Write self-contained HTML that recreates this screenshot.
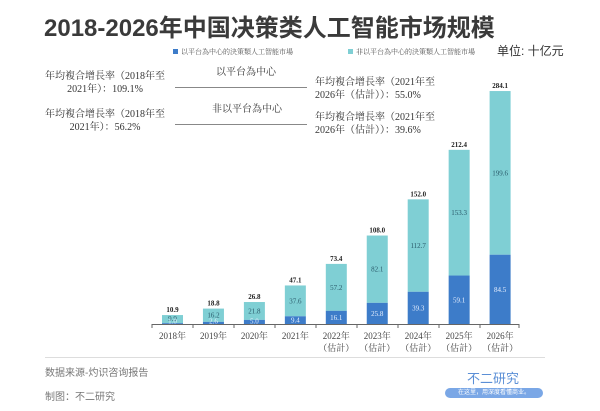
<!DOCTYPE html>
<html><head><meta charset="utf-8"><style>
body{margin:0;background:#fff;}
#c{position:relative;width:600px;height:411px;overflow:hidden;background:#fff;font-family:"Liberation Serif","Noto Serif CJK SC",serif;color:#333;}
.a{position:absolute;white-space:nowrap;}
.s{font-size:10px;line-height:12px;}
</style></head><body><div id="c">
<div class="a" style="left:44px;top:13px;font:bold 24px/32px 'Liberation Sans','Noto Sans CJK SC',sans-serif;color:#3a3a3a;">2018-2026年中国决策类人工智能市场规模</div>
<div class="a" style="left:173px;top:47px;font-size:7px;color:#555;"><span style="display:inline-block;width:5px;height:5px;background:#3d7cc9;margin-right:3px;"></span>以平台為中心的決策類人工智能市場</div>
<div class="a" style="left:348px;top:47px;font-size:7px;color:#555;"><span style="display:inline-block;width:5px;height:5px;background:#7fcfd4;margin-right:3px;"></span>非以平台為中心的決策類人工智能市場</div>
<div class="a" style="left:497px;top:43px;font:12px/16px 'Liberation Sans','Noto Sans CJK SC',sans-serif;color:#333;">单位: 十亿元</div>
<div class="a s" style="left:45px;top:71px;text-align:center;width:120px;">年均複合增長率（2018年至<br><span style="line-height:14px">2021年）：109.1%</span></div>
<div class="a s" style="left:45px;top:109px;text-align:center;width:120px;">年均複合增長率（2018年至<br><span style="line-height:14px">2021年）：56.2%</span></div>
<div class="a s" style="left:216px;top:67px;">以平台為中心</div>
<div class="a" style="left:175px;top:87px;width:132px;border-top:1px solid #888;"></div>
<div class="a s" style="left:212px;top:104px;">非以平台為中心</div>
<div class="a" style="left:175px;top:124px;width:132px;border-top:1px solid #888;"></div>
<div class="a s" style="left:315px;top:77px;">年均複合增長率（2021年至<br><span style="line-height:14px">2026年（估計））：55.0%</span></div>
<div class="a s" style="left:315px;top:112px;">年均複合增長率（2021年至<br><span style="line-height:14px">2026年（估計））：39.6%</span></div>
<svg class="a" style="left:0;top:0" width="600" height="411" font-family="Liberation Serif, Noto Serif CJK SC, serif">
<g id="bars"></g>
<line x1="152" y1="324.5" x2="519" y2="324.5" stroke="#666" stroke-width="1"/>
<g stroke="#666">
<line x1="152" y1="324" x2="152" y2="328"/><line x1="193" y1="324" x2="193" y2="328"/><line x1="234" y1="324" x2="234" y2="328"/><line x1="275" y1="324" x2="275" y2="328"/><line x1="316" y1="324" x2="316" y2="328"/><line x1="357" y1="324" x2="357" y2="328"/><line x1="398" y1="324" x2="398" y2="328"/><line x1="439" y1="324" x2="439" y2="328"/><line x1="480" y1="324" x2="480" y2="328"/><line x1="519" y1="324" x2="519" y2="328"/>
</g>
<line x1="45" y1="357.5" x2="545" y2="357.5" stroke="#ddd"/>
</svg>
<div class="a" style="left:45px;top:367px;font:10px/14px 'Liberation Sans','Noto Sans CJK SC',sans-serif;color:#777;">数据来源-灼识咨询报告</div>
<div class="a" style="left:45px;top:391px;font:10px/14px 'Liberation Sans','Noto Sans CJK SC',sans-serif;color:#777;">制图：不二研究</div>
<div class="a" style="left:467px;top:371px;font:13px/16px 'Liberation Sans','Noto Sans CJK SC',sans-serif;color:#5b8fd6;">不二研究</div>
<div class="a" style="left:445px;top:388px;width:98px;height:10px;background:#7aa7e6;border-radius:5px;font:6px/10px 'Liberation Sans','Noto Sans CJK SC',sans-serif;color:#fff;text-align:center;">在这里，用深度看懂商业。</div>
<script>
var d=[[1.0,9.9,10.9,"2018年"],[2.6,16.2,18.8,"2019年"],[5.0,21.8,26.8,"2020年"],[9.4,37.6,47.1,"2021年"],[16.1,57.2,73.4,"2022年"],[25.8,82.1,108.0,"2023年"],[39.3,112.7,152.0,"2024年"],[59.1,153.3,212.4,"2025年"],[84.5,199.6,284.1,"2026年"]];
var s=0.82,b=324,g=document.getElementById('bars'),h='';
d.forEach(function(r,i){var cx=172.5+i*40.95,w=21,x=cx-w/2;
var h1=r[0]*s,h2=r[1]*s;
h+='<rect x="'+x+'" y="'+(b-h1-h2)+'" width="'+w+'" height="'+h2+'" fill="#7fcfd4"/>';
h+='<rect x="'+x+'" y="'+(b-h1)+'" width="'+w+'" height="'+h1+'" fill="#3d7cc9"/>';
h+='<text x="'+cx+'" y="'+(b-h1-h2-3)+'" font-size="7" font-weight="bold" text-anchor="middle" fill="#222">'+r[2].toFixed(1)+'</text>';
var ly=i==0?b-h1-2:b-h1-h2/2+2.5;
h+='<text x="'+cx+'" y="'+ly+'" font-size="7" text-anchor="middle" fill="#2a5a6a">'+r[1].toFixed(1)+'</text>';
if(h1>6||i<3)h+='<text x="'+cx+'" y="'+(i<3?b-0.5:b-h1/2+2.5)+'" font-size="7" text-anchor="middle" fill="#e8f0ff">'+r[0].toFixed(1)+'</text>';
h+='<text x="'+cx+'" y="339" font-size="9" text-anchor="middle" fill="#444">'+r[3]+'</text>';
if(i>3)h+='<text x="'+cx+'" y="351" font-size="9" text-anchor="middle" fill="#444">（估計）</text>';
});
g.innerHTML=h;
</script>
</div></body></html>
